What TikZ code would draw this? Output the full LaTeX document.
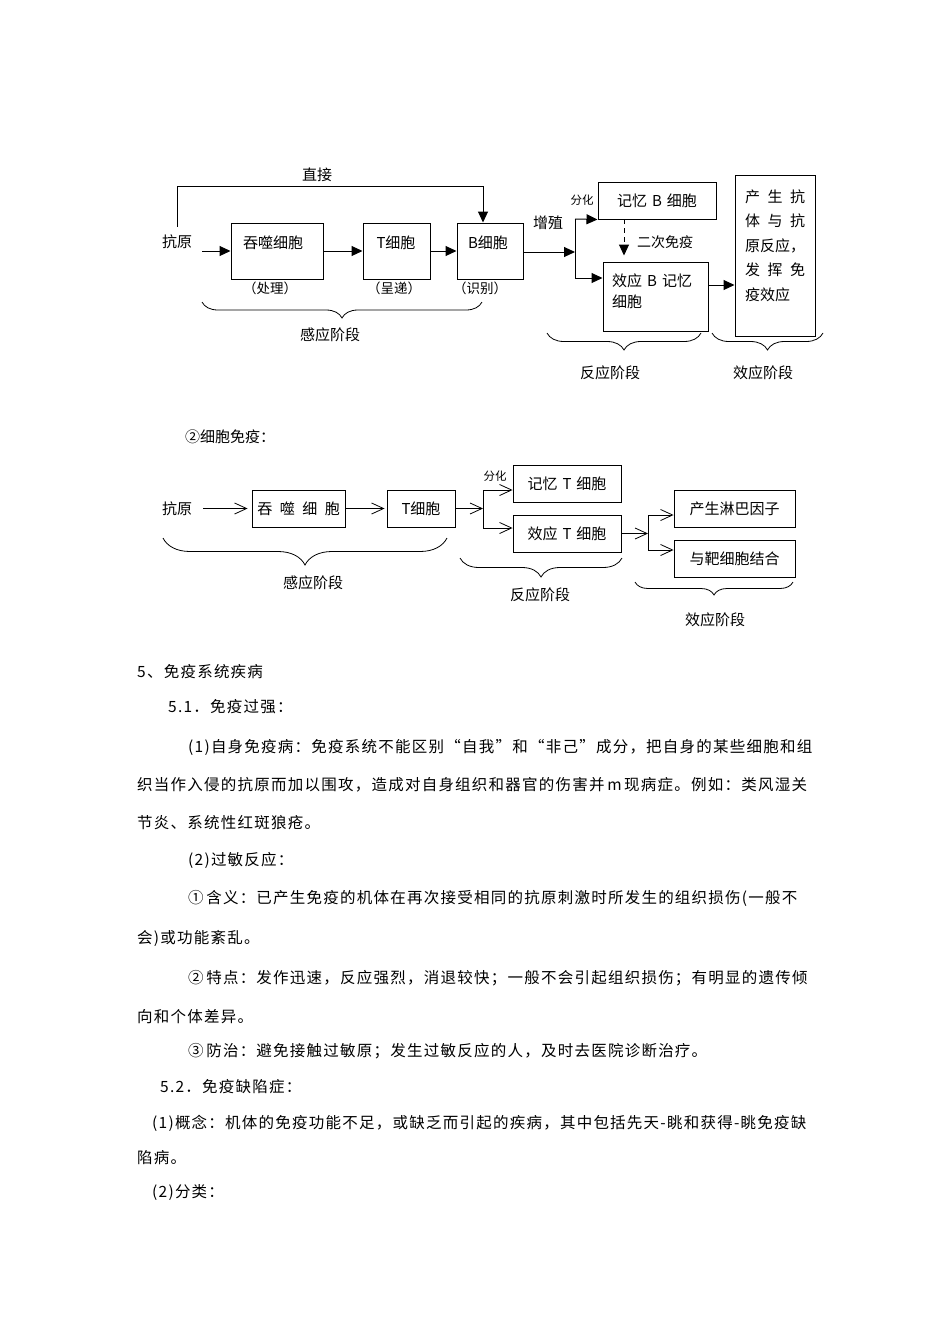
\documentclass[tikz,border=0pt]{standalone}
\usepackage{fontspec}
\setmainfont{Noto Sans CJK SC}
\newfontfamily\bodyfont[LetterSpace=8]{Noto Sans CJK SC}
\usetikzlibrary{arrows.meta,positioning,decorations.pathreplacing,calc}

\begin{document}
\begin{tikzpicture}[
    x=1pt, y=-1pt,
    every node/.style={font=\fontsize{15}{18}\selectfont, inner sep=2pt},
    cellbox/.style={draw, line width=1pt, inner sep=0pt},
    arrA/.style={-{Triangle[length=11pt,width=10pt]}, line width=1pt},
    arrB/.style={-{Straight Barb[length=12pt,width=11pt]}, line width=0.8pt},
    stagebrace/.style={decorate, decoration={brace, amplitude=#1}, line width=0.8pt},
    small/.style={font=\fontsize{11.5}{14}\selectfont},
    note/.style={font=\fontsize{13.5}{16}\selectfont},
    para/.style={anchor=west, inner sep=0pt, font=\bodyfont\fontsize{15.5}{18}\selectfont}
]
\useasboundingbox[fill=white] (0,0) rectangle (950,1344);

% Humoral immunity
\node (directlbl) at (317,175) {直接};
\node (antigen1) at (177,242) {抗原};
\node[cellbox, minimum width=92pt, minimum height=56pt] (phago1) at (277,251) {};
\node[cellbox, minimum width=67pt, minimum height=56pt] (tcell1) at (396.5,251) {};
\node[cellbox, minimum width=66pt, minimum height=56pt] (bcell1) at (490,251) {};
\node (phago1txt) at (273,243) {吞噬细胞};
\node (tcell1txt) at (396,243) {T细胞};
\node (bcell1txt) at (488,243) {B细胞};
\node[note] (process) at (270,288) {（处理）};
\node[note] (present) at (394,288) {（呈递）};
\node[note] (identify) at (480,288) {（识别）};

\node (prolif) at (548,223) {增殖};
\node[small] (diffA) at (582,200) {分化};
\node[cellbox, minimum width=118pt, minimum height=37pt] (memB) at (657,200.5) {记忆\hspace{5pt}B\hspace{5pt}细胞};
\node[cellbox, minimum width=105pt, minimum height=69pt] (effB) at (655.5,296.5) {};
\node[anchor=north west, align=left, inner sep=0pt, font=\fontsize{15}{21}\selectfont] (effBtxt) at (612,274) {效应\hspace{5pt}B\hspace{5pt}记忆\\细胞};
\node[font=\fontsize{14}{16}\selectfont] (secondary) at (665,242) {二次免疫};
\node[cellbox, minimum width=80pt, minimum height=161pt] (result) at (775,255.5) {};
\node[anchor=north west, align=left, inner sep=0pt, font=\fontsize{15}{24.5}\selectfont] (resulttxt) at (745,189.5) {产\enspace 生\enspace 抗\\体\enspace 与\enspace 抗\\原反应，\\发\enspace 挥\enspace 免\\疫效应};

\coordinate (directturn) at (483,186);
\coordinate (split1) at (575,252);
\coordinate (fork1a) at (575,219);
\coordinate (fork1b) at (575,278);
\coordinate (recall) at (624,219);

\draw[arrA] ([yshift=6pt]antigen1.north) |- (directturn) -- (directturn |- bcell1.north);
\draw[arrA, shorten <=8pt] (antigen1.east |- phago1) -- (phago1.west);
\draw[arrA] (phago1) -- (tcell1);
\draw[arrA] (tcell1) -- (bcell1);
\draw[arrA] (bcell1.east |- split1) -- (split1);
\draw[line width=1pt] (fork1a) -- (fork1b);
\draw[arrA] (fork1a) -- (memB.south west);
\draw[arrA] (fork1b) -- (fork1b -| effB.west);
\draw[arrA, dash pattern=on 5pt off 4pt, shorten >=6pt] (recall) -- (recall |- effB.north);
\draw[arrA] ([yshift=11.5pt]effB.east) -- ([yshift=11.5pt]effB.east -| result.west);

\draw[stagebrace=16] (482,302) -- (202,302);
\draw[stagebrace=17] (701,333) -- (547,333);
\draw[stagebrace=17] (823,333) -- (712,333);
\node (induct1) at (330,335) {感应阶段};
\node (react1) at (610,373) {反应阶段};
\node (effect1) at (763,373) {效应阶段};

% Cellular immunity
\node[anchor=west, inner sep=0pt] (cellimm) at (185,437) {②细胞免疫：};
\node (antigen2) at (177,508.5) {抗原};
\node[cellbox, line width=0.9pt, minimum width=93pt, minimum height=37pt] (phago2) at (298.5,508.5) {吞\enspace 噬\enspace 细\enspace 胞};
\node[cellbox, line width=0.9pt, minimum width=68pt, minimum height=37pt] (tcell2) at (421,508.5) {T细胞};
\node[cellbox, line width=0.9pt, minimum width=108pt, minimum height=37pt] (memT) at (567,483.5) {记忆\hspace{5pt}T\hspace{5pt}细胞};
\node[cellbox, line width=0.9pt, minimum width=108pt, minimum height=37pt] (effT) at (567,533.5) {效应\hspace{5pt}T\hspace{5pt}细胞};
\node[small] (diffB) at (495,476) {分化};
\node[cellbox, line width=0.9pt, minimum width=121pt, minimum height=37pt] (lymph) at (734.5,508.5) {产生淋巴因子};
\node[cellbox, line width=0.9pt, minimum width=121pt, minimum height=37pt] (bind) at (734.5,558.5) {与靶细胞结合};

\coordinate (split2) at (483,508.5);
\coordinate (fork2a) at (483,490);
\coordinate (fork2b) at (483,528);
\coordinate (split3) at (648,533.5);
\coordinate (fork3a) at (648,515);
\coordinate (fork3b) at (648,550);

\draw[arrB, shorten <=9pt, shorten >=4pt] (antigen2) -- (phago2);
\draw[arrB, shorten >=2pt] (phago2) -- (tcell2);
\draw[arrB] (tcell2) -- (split2);
\draw[line width=0.8pt] (fork2a) -- (fork2b);
\draw[arrB] (fork2a) -- (fork2a -| memT.west);
\draw[arrB] (fork2b) -- (fork2b -| effT.west);
\draw[arrB] (effT) -- (split3);
\draw[line width=0.8pt] (fork3a) -- (fork3b);
\draw[arrB] (fork3a) -- (fork3a -| lymph.west);
\draw[arrB] (fork3b) -- (fork3b -| bind.west);

\draw[stagebrace=27] (447,538) -- (163,538);
\draw[stagebrace=19] (622,558) -- (460,558);
\draw[stagebrace=13] (793,582) -- (635,582);
\node (induct2) at (313,583) {感应阶段};
\node (react2) at (540,595) {反应阶段};
\node (effect2) at (715,620) {效应阶段};

% Text
\node[para] (sec5) at (137,672) {5、免疫系统疾病};
\node[para] (sec51) at (168,707) {5.1．免疫过强：};
\node[para] (auto1) at (188,747) {(1)自身免疫病：免疫系统不能区别“自我”和“非己”成分，把自身的某些细胞和组};
\node[para] (auto2) at (137,785) {织当作入侵的抗原而加以围攻，造成对自身组织和器官的伤害并\,m\,现病症。例如：类风湿关};
\node[para] (auto3) at (137,823) {节炎、系统性红斑狼疮。};
\node[para] (allergy) at (188,860) {(2)过敏反应：};
\node[para] (mean1) at (188,898) {①\,含义：已产生免疫的机体在再次接受相同的抗原刺激时所发生的组织损伤(一般不};
\node[para] (mean2) at (137,938) {会)或功能紊乱。};
\node[para] (trait1) at (188,978) {②\,特点：发作迅速，反应强烈，消退较快；一般不会引起组织损伤；有明显的遗传倾};
\node[para] (trait2) at (137,1017) {向和个体差异。};
\node[para] (cure) at (188,1051) {③\,防治：避免接触过敏原；发生过敏反应的人，及时去医院诊断治疗。};
\node[para] (sec52) at (160,1087) {5.2．免疫缺陷症：};
\node[para] (defic1) at (152,1123) {(1)概念：机体的免疫功能不足，或缺乏而引起的疾病，其中包括先天-眺和获得-眺免疫缺};
\node[para] (defic2) at (137,1158) {陷病。};
\node[para] (kinds) at (152,1193) {(2)分类：};

\end{tikzpicture}
\end{document}
